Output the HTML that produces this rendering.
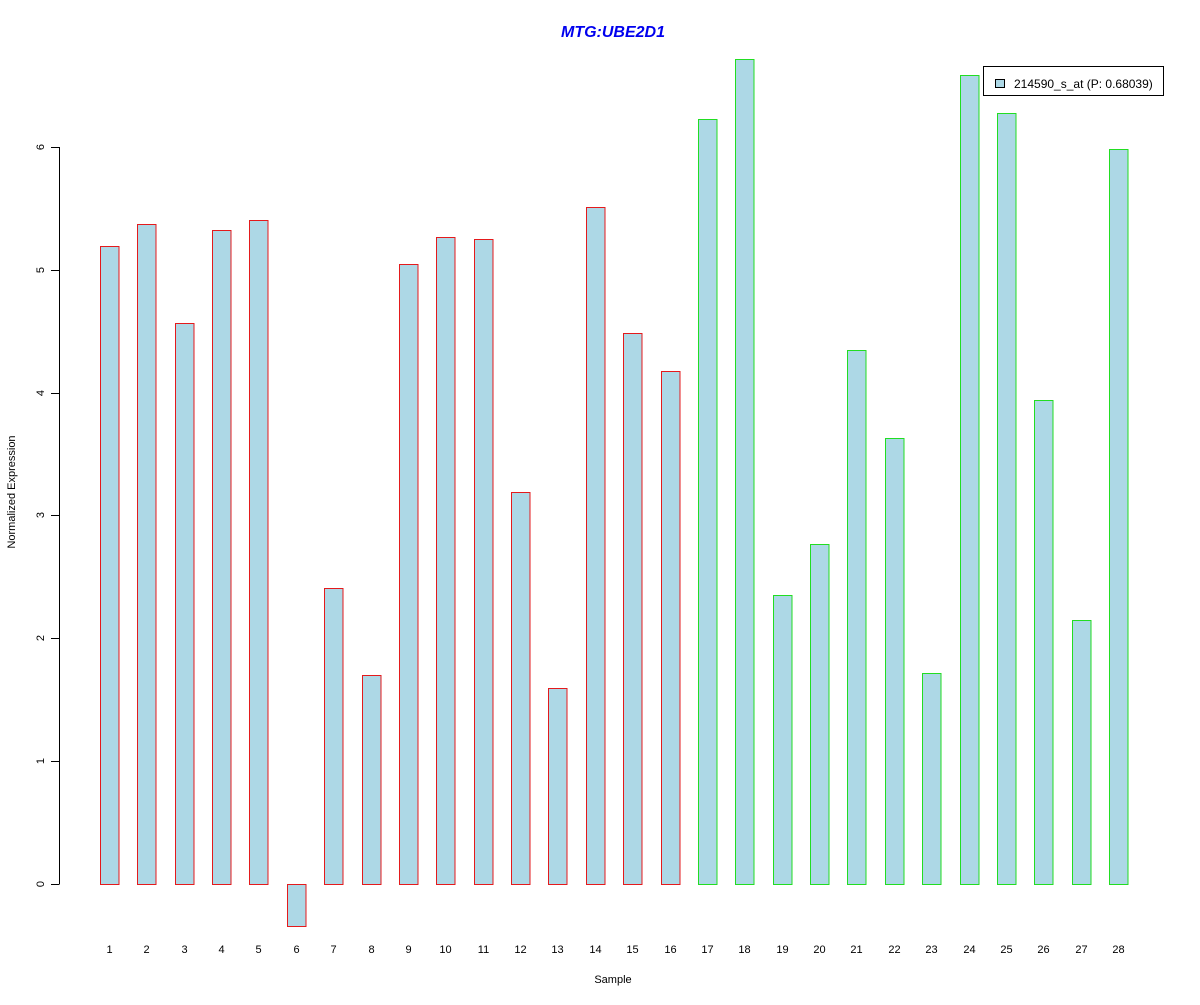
<!DOCTYPE html>
<html><head><style>body{margin:0;background:#fff}</style></head><body>
<svg width="1200" height="1000" xmlns="http://www.w3.org/2000/svg" font-family="Liberation Sans, sans-serif">
<rect width="1200" height="1000" fill="#fff"/>
<text x="613" y="37" text-anchor="middle" font-size="16" font-weight="bold" font-style="italic" fill="#0000ee">MTG:UBE2D1</text>
<g stroke="#000" stroke-width="1" fill="none">
<line x1="59.5" y1="147" x2="59.5" y2="884"/>
<line x1="51" y1="884.5" x2="59.5" y2="884.5"/>
<line x1="51" y1="761.5" x2="59.5" y2="761.5"/>
<line x1="51" y1="638.5" x2="59.5" y2="638.5"/>
<line x1="51" y1="515.5" x2="59.5" y2="515.5"/>
<line x1="51" y1="393.5" x2="59.5" y2="393.5"/>
<line x1="51" y1="270.5" x2="59.5" y2="270.5"/>
<line x1="51" y1="147.5" x2="59.5" y2="147.5"/>
</g>
<g font-size="11" text-anchor="middle" fill="#000">
<text transform="translate(44,884) rotate(-90)">0</text>
<text transform="translate(44,761) rotate(-90)">1</text>
<text transform="translate(44,638) rotate(-90)">2</text>
<text transform="translate(44,515) rotate(-90)">3</text>
<text transform="translate(44,393) rotate(-90)">4</text>
<text transform="translate(44,270) rotate(-90)">5</text>
<text transform="translate(44,147) rotate(-90)">6</text>
<text transform="translate(15,492) rotate(-90)">Normalized Expression</text>
<text x="613" y="983">Sample</text>
</g>
<g fill="#add8e6" stroke="#e41a1c">
<rect x="100.5" y="246.5" width="18.5" height="638"/>
<rect x="137.5" y="224.5" width="18.5" height="660"/>
<rect x="175.5" y="323.5" width="18.5" height="561"/>
<rect x="212.5" y="230.5" width="18.5" height="654"/>
<rect x="249.5" y="220.5" width="18.5" height="664"/>
<rect x="287.5" y="884.5" width="18.5" height="42"/>
<rect x="324.5" y="588.5" width="18.5" height="296"/>
<rect x="362.5" y="675.5" width="18.5" height="209"/>
<rect x="399.5" y="264.5" width="18.5" height="620"/>
<rect x="436.5" y="237.5" width="18.5" height="647"/>
<rect x="474.5" y="239.5" width="18.5" height="645"/>
<rect x="511.5" y="492.5" width="18.5" height="392"/>
<rect x="548.5" y="688.5" width="18.5" height="196"/>
<rect x="586.5" y="207.5" width="18.5" height="677"/>
<rect x="623.5" y="333.5" width="18.5" height="551"/>
<rect x="661.5" y="371.5" width="18.5" height="513"/>
</g>
<g fill="#add8e6" stroke="#22dd22">
<rect x="698.5" y="119.5" width="18.5" height="765"/>
<rect x="735.5" y="59.5" width="18.5" height="825"/>
<rect x="773.5" y="595.5" width="18.5" height="289"/>
<rect x="810.5" y="544.5" width="18.5" height="340"/>
<rect x="847.5" y="350.5" width="18.5" height="534"/>
<rect x="885.5" y="438.5" width="18.5" height="446"/>
<rect x="922.5" y="673.5" width="18.5" height="211"/>
<rect x="960.5" y="75.5" width="18.5" height="809"/>
<rect x="997.5" y="113.5" width="18.5" height="771"/>
<rect x="1034.5" y="400.5" width="18.5" height="484"/>
<rect x="1072.5" y="620.5" width="18.5" height="264"/>
<rect x="1109.5" y="149.5" width="18.5" height="735"/>
</g>
<g font-size="11" text-anchor="middle" fill="#000">
<text x="109.5" y="953">1</text><text x="146.5" y="953">2</text><text x="184.5" y="953">3</text><text x="221.5" y="953">4</text>
<text x="258.5" y="953">5</text><text x="296.5" y="953">6</text><text x="333.5" y="953">7</text><text x="371.5" y="953">8</text>
<text x="408.5" y="953">9</text><text x="445.5" y="953">10</text><text x="483.5" y="953">11</text><text x="520.5" y="953">12</text>
<text x="557.5" y="953">13</text><text x="595.5" y="953">14</text><text x="632.5" y="953">15</text><text x="670.5" y="953">16</text>
<text x="707.5" y="953">17</text><text x="744.5" y="953">18</text><text x="782.5" y="953">19</text><text x="819.5" y="953">20</text>
<text x="856.5" y="953">21</text><text x="894.5" y="953">22</text><text x="931.5" y="953">23</text><text x="969.5" y="953">24</text>
<text x="1006.5" y="953">25</text><text x="1043.5" y="953">26</text><text x="1081.5" y="953">27</text><text x="1118.5" y="953">28</text>
</g>
<rect x="983.5" y="66.5" width="180" height="29" fill="#fff" stroke="#000"/>
<rect x="995.5" y="79.5" width="9" height="8" fill="#add8e6" stroke="#000"/>
<text x="1014" y="88" font-size="12">214590_s_at (P: 0.68039)</text>
</svg>
</body></html>
